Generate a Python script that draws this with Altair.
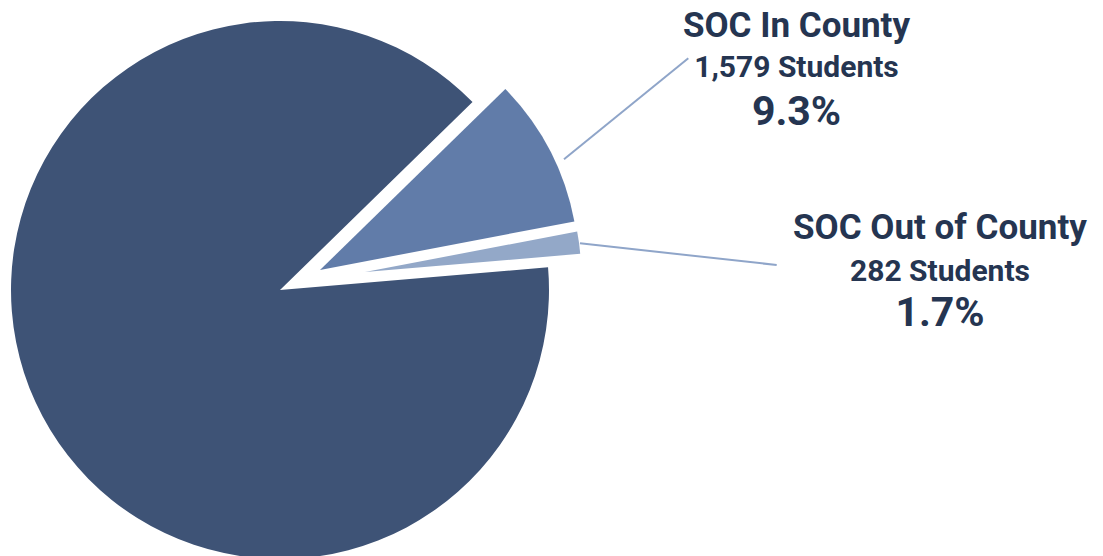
import altair as alt
import pandas as pd

# ---- data ----
groups = ["SOC In County", "SOC Out of County", "Other Students"]
students = [1579, 282, 15117]
stack_order = [1, 2, 3]
colors = ["#617CA9", "#93A8C8", "#3E5376"]

TEXT = "#253551"
LEADER = "#8FA5C9"

df = pd.DataFrame({"group": groups, "students": students, "order": stack_order})

W, H = 1087, 548
START = 0.7976
TAU = 6.283185307179586

base = (
    alt.Chart(df)
    .transform_joinaggregate(total="sum(students)")
    .transform_calculate(
        count_label="format(datum.students, ',') + ' Students'",
        pct_label="format(datum.students / datum.total, '.1%')",
    )
)

theta = alt.Theta("students:Q", stack=True, scale=alt.Scale(range=[START, START + TAU]))
color = alt.Color("group:N", scale=alt.Scale(domain=groups, range=colors), legend=None)


def slice_layer(name, cx, cy, r):
    return base.mark_arc().encode(
        theta=theta,
        color=color,
        order=alt.Order("order:Q"),
        opacity=alt.condition(f"datum.group == '{name}'", alt.value(1), alt.value(0)),
        x=alt.value(cx),
        y=alt.value(cy),
        radius=alt.value(r),
    )


def label_layers(name, cx, y1, y2, y3):
    b = base.transform_filter(f"datum.group == '{name}'")
    common = dict(font="Roboto", fontWeight="bold", color=TEXT, align="center", baseline="alphabetic")
    t1 = b.mark_text(fontSize=35, **common).encode(text="group:N", x=alt.value(cx), y=alt.value(y1))
    t2 = b.mark_text(fontSize=30, **common).encode(text="count_label:N", x=alt.value(cx), y=alt.value(y2))
    t3 = b.mark_text(fontSize=41, **common).encode(text="pct_label:N", x=alt.value(cx), y=alt.value(y3))
    return [t1, t2, t3]


def leader(x1, y1, x2, y2):
    return (
        alt.Chart(pd.DataFrame({"k": [0]}))
        .mark_rule(color=LEADER, strokeWidth=2)
        .encode(x=alt.value(x1), y=alt.value(y1), x2=alt.value(x2), y2=alt.value(y2))
    )


layers = [
    slice_layer("Other Students", 272, 282, 269),
    slice_layer("SOC In County", 312, 262, 259),
    slice_layer("SOC Out of County", 357, 264, 216),
    leader(556, 151.3, 680.3, 50.3),
    leader(572, 235.3, 768.7, 257),
]
layers += label_layers("SOC In County", 788.5, 28.7, 69.3, 117)
layers += label_layers("SOC Out of County", 932, 231.3, 273, 318)

chart = (
    alt.layer(*layers)
    .properties(width=W, height=H, padding=0, autosize="none", background="white")
    .configure_view(stroke=None)
)

chart.save("out.html", embed_options={"renderer": "svg", "actions": False})
